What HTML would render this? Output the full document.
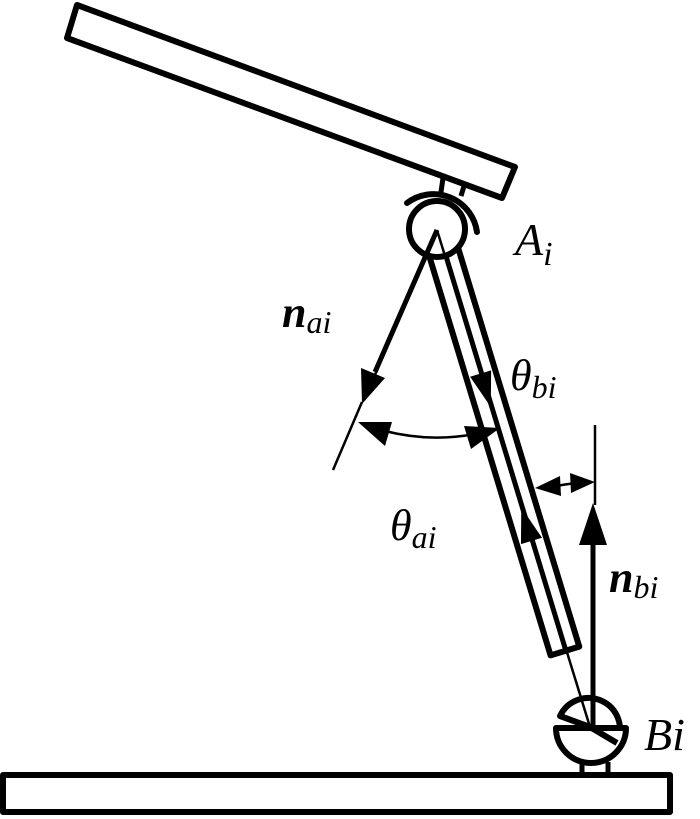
<!DOCTYPE html>
<html><head><style>html,body{margin:0;padding:0;background:#fff}svg{display:block}
text{font-family:"Liberation Serif",serif;font-style:italic;fill:#000}</style></head>
<body>
<svg width="700" height="819" viewBox="0 0 700 819" xmlns="http://www.w3.org/2000/svg">
<g fill="none" stroke="#000" stroke-linejoin="round">
<!-- top plate -->
<polygon points="77,5 515,167 502,198 67,38" fill="#fff" stroke-width="6"/>
<line x1="443" y1="178" x2="441" y2="192" stroke-width="5"/>
<line x1="464" y1="186" x2="461" y2="196" stroke-width="5"/>
<path d="M407 203 A44 44 0 0 1 477 232" stroke-width="6" stroke-linecap="round"/>
<!-- rod -->
<g transform="translate(437,230) rotate(-16.9)">
<rect x="-15" y="12" width="30" height="428" fill="#fff" stroke-width="6"/>
<line x1="1" y1="12" x2="1" y2="440" stroke-width="5"/>
<polygon points="0,185 -11,150 11,150" fill="#000" stroke="none"/>
<polygon points="0,290 -11,325 11,325" fill="#000" stroke="none"/>
</g>
<circle cx="437" cy="229" r="28" fill="#fff" stroke-width="6"/>
<!-- A to B axis line -->
<line x1="437" y1="230" x2="590" y2="727" stroke-width="2.5"/>
<!-- n_ai -->
<line x1="437" y1="230" x2="375" y2="372" stroke-width="5"/>
<polygon points="362,404 385,378 361,368" fill="#000" stroke="none"/>
<line x1="362" y1="402" x2="333" y2="470" stroke-width="2.5"/>
<line x1="437" y1="232" x2="364" y2="400" stroke-width="2.5"/>
<!-- theta_ai arc -->
<path d="M385 431 A208 208 0 0 0 475 434" stroke-width="2.5"/>
<polygon points="358,422 392,422 385,446" fill="#000" stroke="none"/>
<polygon points="500,428 471,449 464,426" fill="#000" stroke="none"/>
<!-- theta_bi -->
<line x1="595" y1="425" x2="595" y2="505" stroke-width="2.5"/>
<path d="M552 487 Q565 484 578 483" stroke-width="2.5"/>
<polygon points="535,488 560,476 561,496" fill="#000" stroke="none"/>
<polygon points="595,482 570,473 571,493" fill="#000" stroke="none"/>
<!-- n_bi -->
<line x1="593" y1="728" x2="593" y2="540" stroke-width="5"/>
<polygon points="593,503 579,545 607,545" fill="#000" stroke="none"/>
<!-- B joint -->
<path d="M560 716 A31 31 0 1 1 617 743 L590 727 Z" fill="none" stroke-width="6"/>
<path d="M556 728 A35 35 0 0 0 626 728 Z" fill="#fff" stroke-width="6"/>
<line x1="590" y1="727" x2="617" y2="743" stroke-width="6"/>
<line x1="582" y1="762" x2="582" y2="776" stroke-width="5"/>
<line x1="608" y1="762" x2="608" y2="776" stroke-width="5"/>
<!-- base -->
<rect x="3" y="775" width="667" height="37" fill="#fff" stroke-width="6"/>
</g>
<text x="515" y="255" font-size="46">A<tspan font-size="34" dy="10">i</tspan></text>
<text x="282" y="327" font-size="44" font-weight="bold">n<tspan font-size="32" font-weight="normal" dy="6">ai</tspan></text>
<text x="510" y="390" font-size="44">θ<tspan font-size="32" dy="8">bi</tspan></text>
<text x="390" y="540" font-size="44">θ<tspan font-size="32" dy="8">ai</tspan></text>
<text x="609" y="592" font-size="44" font-weight="bold">n<tspan font-size="32" font-weight="normal" dy="6">bi</tspan></text>
<text x="644" y="750" font-size="46">Bi</text>
</svg>
</body></html>
